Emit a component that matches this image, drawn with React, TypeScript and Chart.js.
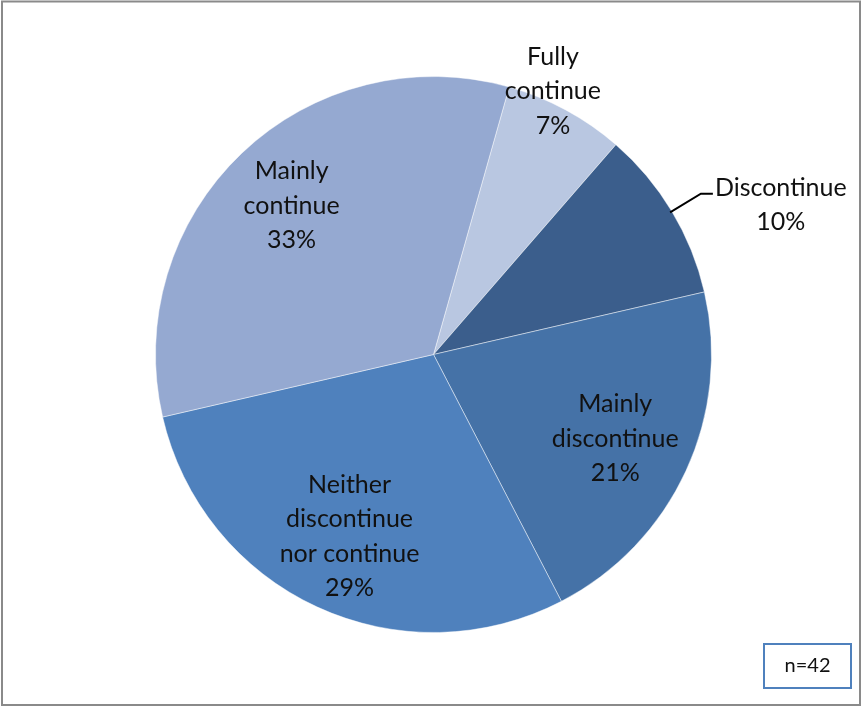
import React, { useEffect, useRef } from "react";
import { Chart, registerables } from "chart.js";

Chart.register(...registerables);

// Survey answers, in drawing order (clockwise)
const categories = ["Fully continue", "Discontinue", "Mainly discontinue", "Neither discontinue nor continue", "Mainly continue"];
const percentages = [7, 10, 21, 29, 33];
const labelLines = [
  ["Fully", "continue"],
  ["Discontinue"],
  ["Mainly", "discontinue"],
  ["Neither", "discontinue", "nor continue"],
  ["Mainly", "continue"],
];
const sliceColors = ["#B9C7E1", "#3B5E8C", "#4572A7", "#4F81BD", "#95A9D1"];
const sampleNote = "n=42";

const FONT = "Lato, 'Open Sans', sans-serif";

// label placement: radius as a fraction of the pie radius, plus an angular nudge (degrees)
const labelRadius = [1.04, 1.36, 0.72, 0.72, 0.74];
const labelNudge = [-4, 7.7, 0, 0, 0];

const decorations = {
  id: "decorations",
  beforeDraw(chart: any) {
    const ctx = chart.ctx;
    ctx.save();
    ctx.fillStyle = "#ffffff";
    ctx.fillRect(0, 0, chart.width, chart.height);
    ctx.strokeStyle = "#8a8a8a";
    ctx.lineWidth = 2;
    ctx.strokeRect(2, 1.5, 858, 703.5);
    ctx.restore();
  },
  afterDraw(chart: any) {
    const ctx = chart.ctx;
    const meta = chart.getDatasetMeta(0);
    ctx.save();
    ctx.fillStyle = "#111111";
    ctx.font = `25px ${FONT}`;
    ctx.textAlign = "center";
    ctx.textBaseline = "middle";
    const lineH = 34.5;
    meta.data.forEach((arc: any, i: number) => {
      const { x, y, startAngle, endAngle, outerRadius } = arc.getProps(
        ["x", "y", "startAngle", "endAngle", "outerRadius"],
        true
      );
      const midRaw = (startAngle + endAngle) / 2;
      const mid = midRaw + (labelNudge[i] * Math.PI) / 180;
      const r = outerRadius * labelRadius[i];
      const cx = x + Math.cos(mid) * r;
      const cy = y + Math.sin(mid) * r;
      const lines = [...labelLines[i], `${percentages[i]}%`];
      const top = cy - ((lines.length - 1) * lineH) / 2;
      lines.forEach((t, k) => ctx.fillText(t, cx, top + k * lineH));

      if (r > outerRadius * 1.2) {
        // leader line from the slice edge to the outside label
        const ex = x + Math.cos(midRaw) * (outerRadius - 2);
        const ey = y + Math.sin(midRaw) * (outerRadius - 2);
        const w = ctx.measureText(lines[0]).width;
        const lx = cx - w / 2 - 2;
        const ly = top + 6;
        ctx.strokeStyle = "#000000";
        ctx.lineWidth = 2;
        ctx.beginPath();
        ctx.moveTo(ex, ey);
        ctx.lineTo(lx - 12, ly);
        ctx.lineTo(lx, ly);
        ctx.stroke();
      }
    });

    // sample size box
    ctx.strokeStyle = "#4F81BD";
    ctx.lineWidth = 2;
    ctx.strokeRect(764, 644, 87, 44);
    ctx.fillStyle = "#111111";
    ctx.font = `20px ${FONT}`;
    ctx.fillText(sampleNote, 807.5, 666);
    ctx.restore();
  },
};

export default function App() {
  const ref = useRef<HTMLCanvasElement>(null);
  useEffect(() => {
    document.body.style.margin = "0";
    const chart = new Chart(ref.current!, {
      type: "pie",
      data: {
        labels: categories,
        datasets: [
          {
            data: percentages,
            backgroundColor: sliceColors,
            borderColor: "rgba(255,255,255,0.45)",
            borderWidth: 1,
          },
        ],
      },
      options: {
        animation: false,
        responsive: false,
        rotation: 15.8,
        layout: { padding: { top: 76, bottom: 75, left: 155, right: 150 } },
        plugins: { legend: { display: false }, tooltip: { enabled: false } },
      },
      plugins: [decorations],
    });
    return () => chart.destroy();
  }, []);
  return (
    <div style={{ width: 862, height: 708 }}>
      <canvas ref={ref} width={862} height={708} style={{ display: "block" }} />
    </div>
  );
}
